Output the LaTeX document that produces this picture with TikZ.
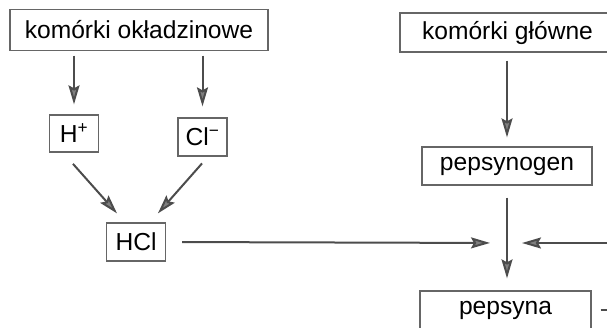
\documentclass[tikz,border=0pt]{standalone}
\usepackage{fontspec}
\setmainfont{Liberation Sans}
\usetikzlibrary{arrows.meta}

\begin{document}
\begin{tikzpicture}[x=1pt, y=-1pt,
  every node/.style={font=\fontsize{24.6}{28}\selectfont},
  box/.style={draw=black!60, line width=1.3pt, inner sep=0pt, minimum height=38pt},
  arr/.style={draw=black!70, line width=2pt,
    -{Stealth[length=19pt, width=11pt, inset=3pt, fill=black!50]}}]
  \path[use as bounding box, clip] (0,0) rectangle (607,327);
  % cells
  \node[box, minimum width=258pt, minimum height=41pt] (okl) at (139,30) {komórki okładzinowe};
  \node[box, minimum width=215pt, minimum height=39pt] (glw) at (507.5,32.5) {komórki główne};
  % ions
  \node[box, minimum width=49pt, minimum height=37pt] (hp) at (74,133.5) {H\textsuperscript{+}};
  \node[box, minimum width=49pt] (cl) at (202.5,137) {Cl\textsuperscript{−}};
  \node[box, minimum width=59pt] (hcl) at (136,242) {HCl};
  % enzyme
  \node[box, minimum width=170pt] (pgn) at (507,166) {pepsynogen};
  \node[box, minimum width=171pt] (psn) at (505.5,310) {pepsyna};
  \coordinate (mix) at (507,243);
  \coordinate (loop) at (640,243);
  % edges
  \foreach \n/\e in {hp/10pt, cl/11pt}
    \draw[arr, shorten <=4.5pt, shorten >=\e] (\n |- okl.south) -- (\n.north);
  \draw[arr, shorten <=15pt, shorten >=12pt] ([xshift=-11pt]hp.south) -- ([xshift=-11pt]hcl.north);
  \draw[arr, shorten <=9pt, shorten >=12pt] ([xshift=5.5pt]cl.south) -- ([xshift=14pt]hcl.north);
  \draw[arr, shorten <=8pt, shorten >=9pt] (pgn |- glw.south) -- (pgn.north);
  \draw[arr, shorten <=12pt, shorten >=12pt] (pgn.south) -- (pgn |- psn.north);
  \draw[arr, shorten <=16pt, shorten >=17pt] (hcl.east) -- (mix);
  \draw[arr, shorten <=9pt, shorten >=15pt] (psn.east) -| (loop) -- (mix);
\end{tikzpicture}
\end{document}
